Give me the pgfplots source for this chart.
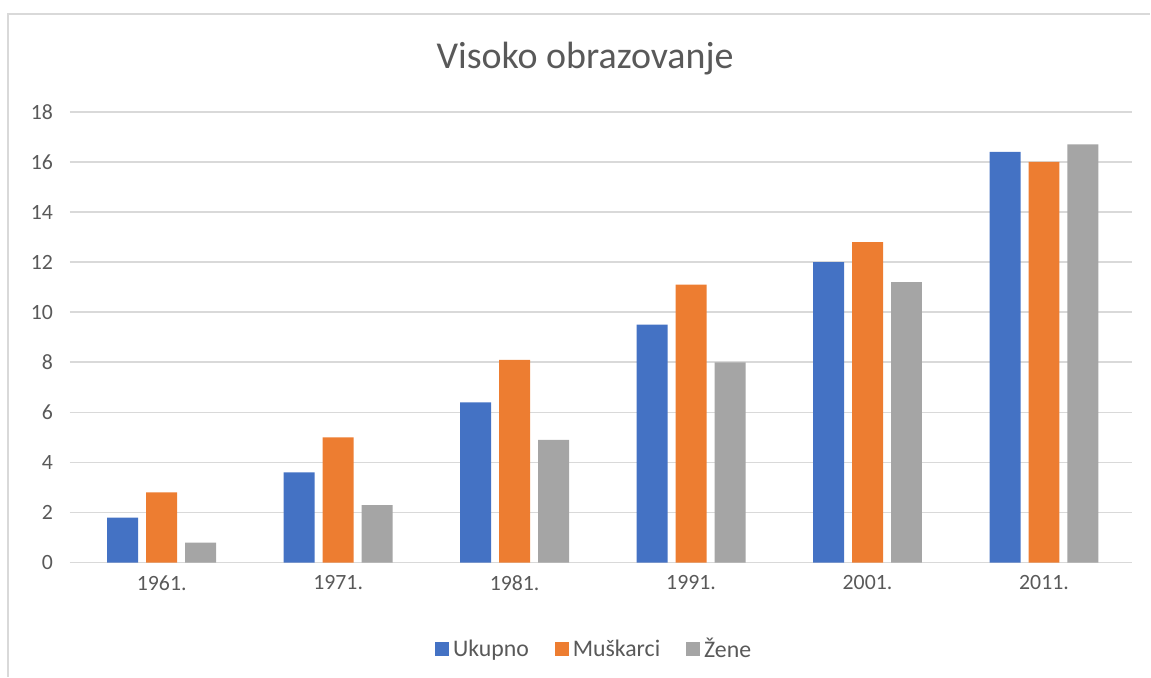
\documentclass[border=0pt]{standalone}
\usepackage{fontspec}
\setmainfont{Carlito}
\usepackage{pgfplots}
\pgfplotsset{compat=1.18}
\definecolor{cBlue}{HTML}{4472C4}
\definecolor{cOrange}{HTML}{ED7D31}
\definecolor{cGray}{HTML}{A5A5A5}
\definecolor{cGrid}{HTML}{D9D9D9}
\definecolor{cText}{HTML}{595959}
\begin{document}
\begin{tikzpicture}[x=1pt,y=1pt]
% page box: 1151x677 px at 0.5pt per px, axis SW corner at px (70,563)
\path (-35,-57) rectangle (540.5,281.5);
\draw[cGrid,line width=0.8pt] (-31,-57) -- (-31,274.5) -- (540.5,274.5);
\begin{axis}[
  at={(0,0)},anchor=south west,
  scale only axis,width=531.5pt,height=225.5pt,
  ybar=4pt,bar width=15.5pt,
  xmin=-0.52,xmax=5.5,ymin=0,ymax=18,
  xtick={0,1,2,3,4,5},
  xticklabels={1961.,1971.,1981.,1991.,2001.,2011.},
  ytick={0,2,...,18},
  axis line style={draw=none},
  major tick length=0pt,
  ymajorgrids,major grid style={cGrid,line width=0.8pt},
  /pgf/number format/assume math mode=true,
  tick label style={font=\fontsize{10.9}{12}\selectfont,text=cText},
  yticklabel style={xshift=-5pt},
  xticklabel style={yshift=-3pt},
  title={Visoko obrazovanje},
  title style={font=\fontsize{19}{22}\selectfont,text=cText,at={(0.5,1)},anchor=center,yshift=20.5pt,xshift=-8pt},
  legend style={at={(0.5,-0.1)},anchor=north,yshift=-11pt,xshift=-3pt,legend columns=-1,draw=none,
    font=\fontsize{11.9}{13}\selectfont,text=cText,
    /tikz/every even column/.append style={column sep=11pt}},
  legend image code/.code={\path[#1] (0pt,-3.5pt) rectangle (7pt,3.5pt);},
]
\addplot[draw=none,fill=cBlue] coordinates {(0,1.8)(1,3.6)(2,6.4)(3,9.5)(4,12.0)(5,16.4)};
\addplot[draw=none,fill=cOrange] coordinates {(0,2.8)(1,5.0)(2,8.1)(3,11.1)(4,12.8)(5,16.0)};
\addplot[draw=none,fill=cGray] coordinates {(0,0.8)(1,2.3)(2,4.9)(3,8.0)(4,11.2)(5,16.7)};
\legend{Ukupno,Muškarci,Žene}
\end{axis}
\end{tikzpicture}
\end{document}
